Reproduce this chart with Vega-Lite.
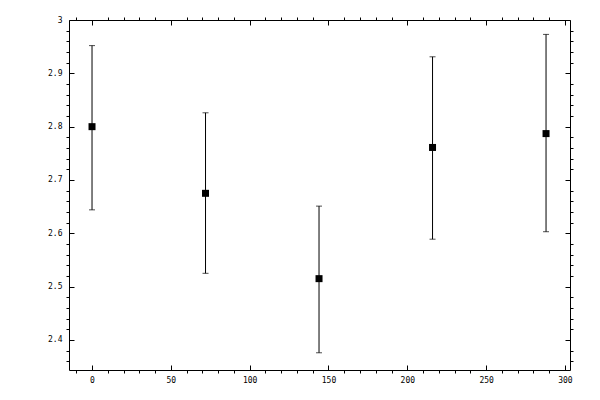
{
  "$schema": "https://vega.github.io/schema/vega-lite/v6.json",
  "width": 501,
  "height": 350,
  "autosize": "none",
  "padding": {"left": 69, "top": 20, "right": 30, "bottom": 30},
  "background": "white",
  "data": {
    "values": [
      {"x": 0, "y": 2.800, "lo": 2.644, "hi": 2.952},
      {"x": 72, "y": 2.675, "lo": 2.525, "hi": 2.826},
      {"x": 144, "y": 2.515, "lo": 2.376, "hi": 2.651},
      {"x": 216, "y": 2.761, "lo": 2.589, "hi": 2.931},
      {"x": 288, "y": 2.787, "lo": 2.603, "hi": 2.973}
    ]
  },
  "layer": [
    {
      "mark": {"type": "rule", "color": "black", "strokeWidth": 1},
      "encoding": {
        "x": {
          "field": "x", "type": "quantitative",
          "scale": {"domain": [-14.6, 303.2], "nice": false, "zero": false},
          "axis": {
            "orient": "bottom", "title": null, "grid": false,
            "values": [-10, 0, 10, 20, 30, 40, 50, 60, 70, 80, 90, 100, 110, 120, 130, 140, 150, 160, 170, 180, 190, 200, 210, 220, 230, 240, 250, 260, 270, 280, 290, 300],
            "labelExpr": "datum.value % 50 === 0 ? toString(datum.value) : ''",
            "tickSize": {"condition": {"test": "datum.value % 50 === 0", "value": -5}, "value": 3},
            "labelPadding": 11
          }
        },
        "y": {
          "field": "lo", "type": "quantitative",
          "scale": {"domain": [2.3437, 3.0], "nice": false, "zero": false},
          "axis": {
            "orient": "left", "title": null, "grid": false,
            "values": [2.36, 2.38, 2.4, 2.42, 2.44, 2.46, 2.48, 2.5, 2.52, 2.54, 2.56, 2.58, 2.6, 2.62, 2.64, 2.66, 2.68, 2.7, 2.72, 2.74, 2.76, 2.78, 2.8, 2.82, 2.84, 2.86, 2.88, 2.9, 2.92, 2.94, 2.96, 2.98, 3.0],
            "labelExpr": "abs(datum.value * 10 - round(datum.value * 10)) < 0.001 ? toString(round(datum.value * 10) / 10) : ''",
            "tickSize": {"condition": {"test": "abs(datum.value * 10 - round(datum.value * 10)) < 0.001", "value": -5}, "value": 3},
            "labelPadding": 12
          }
        },
        "y2": {"field": "hi"}
      }
    },
    {
      "mark": {"type": "tick", "orient": "horizontal", "color": "black", "size": 6, "thickness": 1},
      "encoding": {
        "x": {"field": "x", "type": "quantitative", "scale": {"domain": [-14.6, 303.2], "nice": false, "zero": false}, "axis": null},
        "y": {"field": "lo", "type": "quantitative", "scale": {"domain": [2.3437, 3.0], "nice": false, "zero": false}, "axis": null}
      }
    },
    {
      "mark": {"type": "tick", "orient": "horizontal", "color": "black", "size": 6, "thickness": 1},
      "encoding": {
        "x": {"field": "x", "type": "quantitative", "scale": {"domain": [-14.6, 303.2], "nice": false, "zero": false}, "axis": null},
        "y": {"field": "hi", "type": "quantitative", "scale": {"domain": [2.3437, 3.0], "nice": false, "zero": false}, "axis": null}
      }
    },
    {
      "mark": {"type": "square", "color": "black", "filled": true, "opacity": 1, "size": 49},
      "encoding": {
        "x": {
          "field": "x", "type": "quantitative",
          "scale": {"domain": [-14.6, 303.2], "nice": false, "zero": false},
          "axis": {
            "orient": "top", "title": null, "grid": false, "labels": false,
            "values": [-10, 0, 10, 20, 30, 40, 50, 60, 70, 80, 90, 100, 110, 120, 130, 140, 150, 160, 170, 180, 190, 200, 210, 220, 230, 240, 250, 260, 270, 280, 290, 300],
            "tickSize": {"condition": {"test": "datum.value % 50 === 0", "value": -5}, "value": 3}
          }
        },
        "y": {
          "field": "y", "type": "quantitative",
          "scale": {"domain": [2.3437, 3.0], "nice": false, "zero": false},
          "axis": {
            "orient": "right", "title": null, "grid": false, "labels": false,
            "values": [2.36, 2.38, 2.4, 2.42, 2.44, 2.46, 2.48, 2.5, 2.52, 2.54, 2.56, 2.58, 2.6, 2.62, 2.64, 2.66, 2.68, 2.7, 2.72, 2.74, 2.76, 2.78, 2.8, 2.82, 2.84, 2.86, 2.88, 2.9, 2.92, 2.94, 2.96, 2.98, 3.0],
            "tickSize": {"condition": {"test": "abs(datum.value * 10 - round(datum.value * 10)) < 0.001", "value": -5}, "value": 3}
          }
        }
      }
    }
  ],
  "resolve": {"axis": {"x": "independent", "y": "independent"}},
  "config": {
    "view": {"stroke": null},
    "axis": {
      "domainColor": "black",
      "tickColor": "black",
      "labelColor": "black",
      "labelFont": "DejaVu Sans Mono",
      "labelFontSize": 8,
      "labelFlush": false,
      "labelOverlap": false
    }
  }
}
